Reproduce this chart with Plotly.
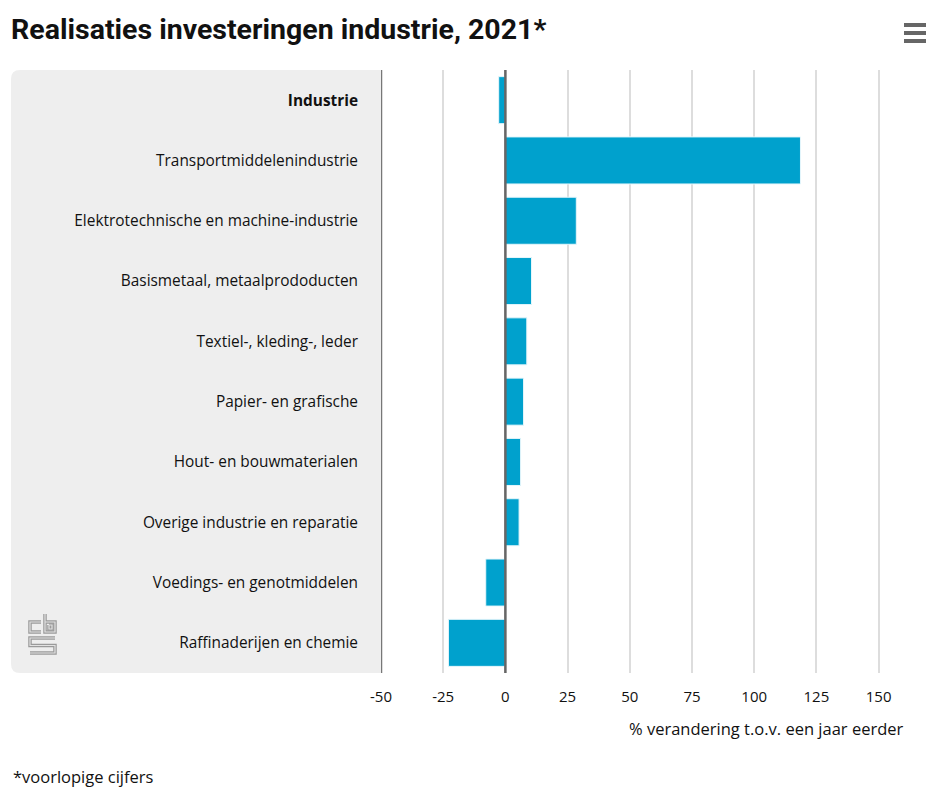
import plotly.graph_objects as go

categories = [
    "<b>Industrie</b>",
    "Transportmiddelenindustrie",
    "Elektrotechnische en machine-industrie",
    "Basismetaal, metaalprododucten",
    "Textiel-, kleding-, leder",
    "Papier- en grafische",
    "Hout- en bouwmaterialen",
    "Overige industrie en reparatie",
    "Voedings- en genotmiddelen",
    "Raffinaderijen en chemie",
]
values = [-2.7, 118.6, 28.5, 10.5, 8.6, 7.3, 6.1, 5.5, -7.9, -22.9]
tick_vals = [-50, -25, 0, 25, 50, 75, 100, 125, 150]
tick_text = ["-50", "-25", "0", "25", "50", "75", "100", "125", "150"]

OFF = 8  # page body margin
W, H = 952 - 2 * OFF, 795 - 2 * OFF
L, T = 381 - OFF, 70 - OFF
PLOT_BOTTOM = 673 - OFF
B = H - PLOT_BOTTOM
R = 57
PW, PH = W - L - R, H - T - B
XMIN = -50
XMAX = XMIN + PW / 2.488


def px(x):
    return (x - OFF - L) / PW


def py(y):
    return (H - B - (y - OFF)) / PH


def path(points, close=False):
    s = "M " + " L ".join(f"{px(x):.5f},{py(y):.5f}" for x, y in points)
    return s + (" Z" if close else "")


FONT = "'Open Sans', 'Noto Sans', sans-serif"

fig = go.Figure(
    go.Bar(
        x=values,
        y=categories,
        orientation="h",
        marker=dict(color="#00a1cd", line=dict(color="#e6f6fb", width=1)),
        width=0.78,
        hoverinfo="x+y",
    )
)

shapes = []
r = 9
x0, x1, y0, y1 = 11, 381, 70, 673
panel = (
    f"M {px(x1):.5f},{py(y0):.5f} L {px(x0 + r):.5f},{py(y0):.5f} "
    f"Q {px(x0):.5f},{py(y0):.5f} {px(x0):.5f},{py(y0 + r):.5f} "
    f"L {px(x0):.5f},{py(y1 - r):.5f} "
    f"Q {px(x0):.5f},{py(y1):.5f} {px(x0 + r):.5f},{py(y1):.5f} "
    f"L {px(x1):.5f},{py(y1):.5f} Z"
)
shapes.append(dict(type="path", xref="paper", yref="paper", path=panel,
                   fillcolor="#eeeeee", line=dict(width=0), layer="below"))
shapes.append(dict(type="line", xref="x", yref="paper", x0=-50, x1=-50, y0=0, y1=1,
                   line=dict(color="#777777", width=2.5)))
shapes.append(dict(type="line", xref="x", yref="paper", x0=0, x1=0, y0=0, y1=1,
                   line=dict(color="#666666", width=2.5)))

# CBS logo (approximation)
logo_paths = [
    [(41, 622), (30, 622), (30, 632), (41, 632)],
    [(45, 614), (45, 632), (55, 632), (55, 622), (45, 622)],
    [(49, 625), (52, 625), (52, 629), (49, 629), (49, 625)],
    [(55, 638), (30, 638), (30, 645.5), (55, 645.5), (55, 653), (30, 653)],
]
for pts in logo_paths:
    shapes.append(dict(type="path", xref="paper", yref="paper", path=path(pts),
                       line=dict(color="#9a9a9a", width=3.5)))
for pts in logo_paths:
    shapes.append(dict(type="path", xref="paper", yref="paper", path=path(pts),
                       line=dict(color="#e2e2e2", width=1.2)))

# hamburger menu icon
for yy in (25, 33, 41):
    shapes.append(dict(type="line", xref="paper", yref="paper",
                       x0=px(904), x1=px(926), y0=py(yy), y1=py(yy),
                       line=dict(color="#666666", width=4)))

fig.update_layout(
    width=W,
    height=H,
    margin=dict(l=L, r=R, t=T, b=B, pad=0),
    paper_bgcolor="white",
    plot_bgcolor="white",
    showlegend=False,
    bargap=0.22,
    font=dict(family=FONT, size=15, color="#111111"),
    title=dict(
        text="<b>Realisaties investeringen industrie, 2021*</b>",
        x=(11 - OFF) / W, xanchor="left", y=1 - (29 - OFF) / H, yanchor="middle",
        font=dict(family="Roboto, sans-serif", size=28.5, color="#111111"),
    ),
    xaxis=dict(
        range=[XMIN, XMAX],
        tickvals=tick_vals,
        ticktext=tick_text,
        showgrid=True,
        gridcolor="#dddddd",
        gridwidth=1.5,
        zeroline=False,
        showline=False,
        ticks="",
        ticklabelstandoff=13,
        tickfont=dict(family=FONT, size=15, color="#111111"),
        fixedrange=True,
    ),
    yaxis=dict(
        autorange="reversed",
        showgrid=False,
        zeroline=False,
        showline=False,
        ticks="",
        ticklabelstandoff=22,
        tickfont=dict(family=FONT, size=15.4, color="#111111"),
        fixedrange=True,
    ),
    shapes=shapes,
    annotations=[
        dict(text="% verandering t.o.v. een jaar eerder", xref="paper", yref="paper",
             x=px(906), y=py(728), xanchor="right", yanchor="middle", showarrow=False,
             font=dict(family=FONT, size=16.5, color="#111111")),
        dict(text="*voorlopige cijfers", xref="paper", yref="paper",
             x=px(11), y=py(776), xanchor="left", yanchor="middle", showarrow=False,
             font=dict(family=FONT, size=16.5, color="#111111")),
    ],
)

fig.write_html("out.html")
